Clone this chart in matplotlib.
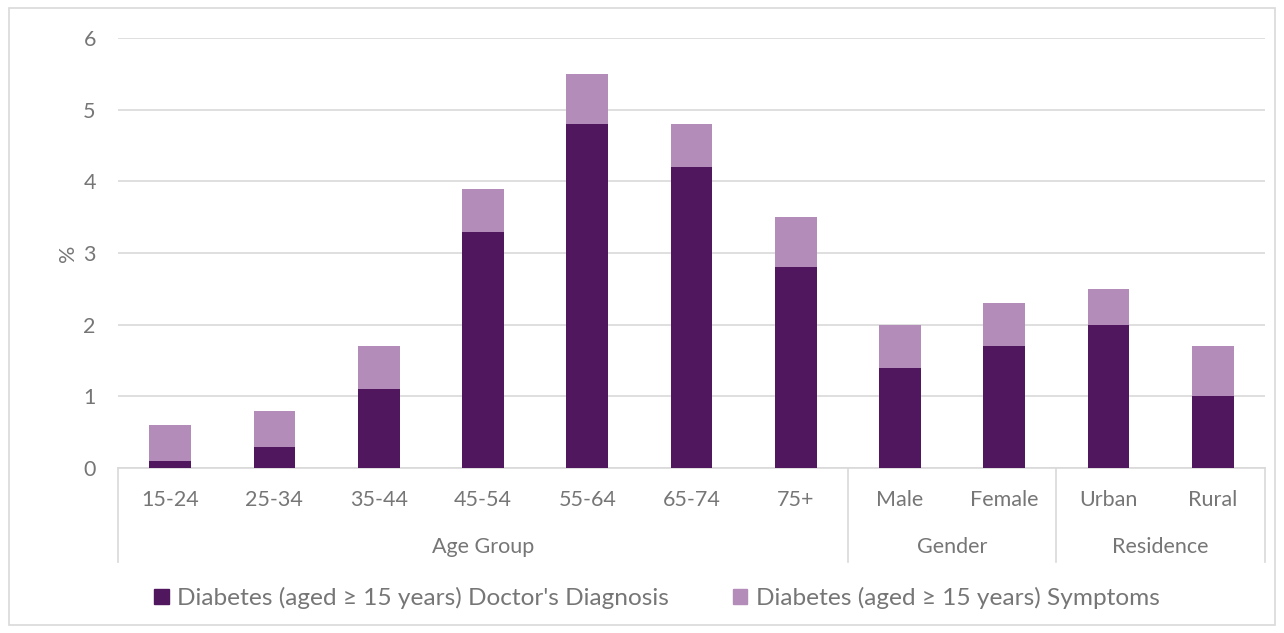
import matplotlib
matplotlib.use("Agg")
import matplotlib.pyplot as plt
from matplotlib.patches import Rectangle, Patch
import numpy as np

categories = ["15-24", "25-34", "35-44", "45-54", "55-64", "65-74", "75+",
              "Male", "Female", "Urban", "Rural"]
doctor = [0.1, 0.3, 1.1, 3.3, 4.8, 4.2, 2.8, 1.4, 1.7, 2.0, 1.0]
symptoms = [0.5, 0.5, 0.6, 0.6, 0.7, 0.6, 0.7, 0.6, 0.6, 0.5, 0.7]
groups = ["Age Group", "Gender", "Residence"]
group_sizes = [7, 2, 2]
series_names = ["Diabetes (aged \u2265 15 years) Doctor's Diagnosis",
                "Diabetes (aged \u2265 15 years) Symptoms"]

dark = "#50165e"
light = "#b48cba"
txt = "#767676"
grid = "#d9d9d9"

plt.rcParams["font.family"] = ["Lato", "DejaVu Sans"]

fig = plt.figure(figsize=(12.84, 6.33), dpi=100)
fig.patches.append(Rectangle((9 / 1284, 8 / 633), 1266 / 1284, 617 / 633,
                             transform=fig.transFigure, fill=False,
                             edgecolor=grid, linewidth=1.2))
ax = fig.add_axes([118 / 1284, 165 / 633, 1147 / 1284, 430 / 633])

x = np.arange(len(categories))
ax.bar(x, doctor, width=0.4, color=dark, zorder=3)
ax.bar(x, symptoms, width=0.4, bottom=doctor, color=light, zorder=3)

ax.set_xlim(-0.5, len(categories) - 0.5)
ax.set_ylim(0, 6)
ax.set_yticks(range(7))
ax.yaxis.grid(True, color=grid, linewidth=1.2, zorder=0)
ax.tick_params(axis="y", length=0, pad=16, labelsize=15.5, labelcolor=txt)
ax.set_xticks([])
for s in ["top", "right", "left"]:
    ax.spines[s].set_visible(False)
ax.spines["bottom"].set_color(grid)
ax.spines["bottom"].set_linewidth(1.2)
ax.set_ylabel("%", fontsize=15.5, color=txt, labelpad=4)

trans = ax.get_xaxis_transform()
for i, c in enumerate(categories):
    ax.text(i, -0.074, c, transform=trans, ha="center", va="center",
            fontsize=15.5, color=txt)

start = -0.5
bounds = [start]
for g, n in zip(groups, group_sizes):
    end = start + n
    ax.text((start + end) / 2, -0.184, g, transform=trans, ha="center",
            va="center", fontsize=15.5, color=txt)
    bounds.append(end)
    start = end
for b in bounds:
    ax.plot([b, b], [0, -0.219], transform=trans, color=grid,
            linewidth=1.2, clip_on=False)

handles = [Patch(color=dark), Patch(color=light)]
fig.legend(handles, series_names, loc="center", ncol=2, frameon=False,
           bbox_to_anchor=(657 / 1284, 35 / 633), fontsize=17.6,
           labelcolor=txt, handlelength=0.6, handleheight=0.6,
           handletextpad=0.35, columnspacing=2.6)

fig.savefig("out.png", dpi=100)
